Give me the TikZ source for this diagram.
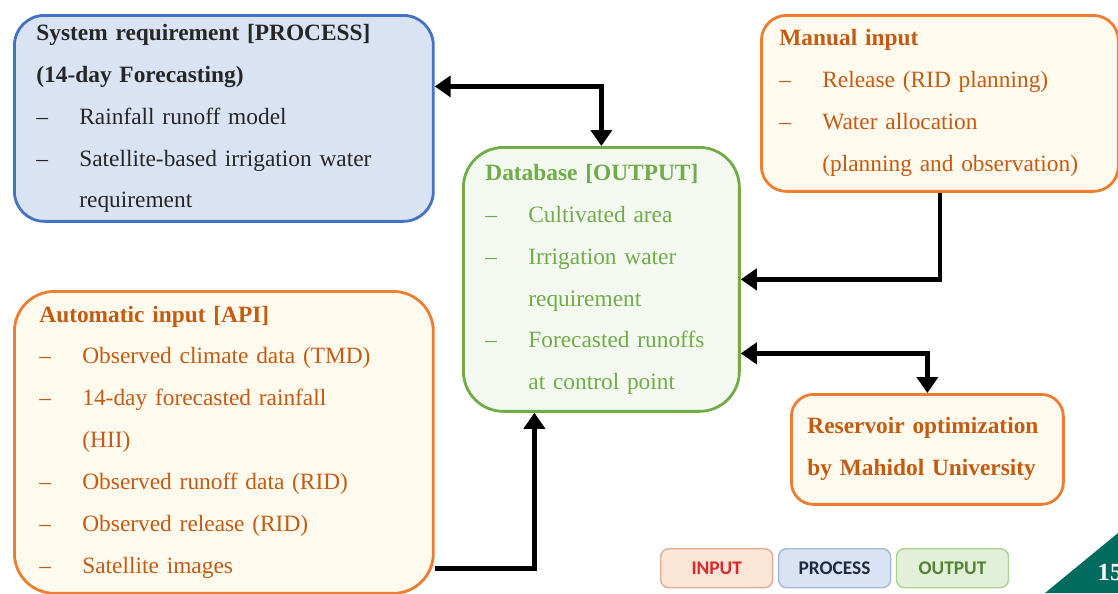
\documentclass[tikz,border=0pt]{standalone}
\usepackage{fontspec}
\setmainfont{Liberation Serif}
\newfontfamily\legendfont{Carlito}
\usetikzlibrary{positioning,arrows.meta}

\definecolor{procline}{HTML}{4472C4}
\definecolor{procfill}{HTML}{DAE3F3}
\definecolor{inline}{HTML}{ED7D31}
\definecolor{infill}{HTML}{FFFAEE}
\definecolor{intext}{HTML}{C55A11}
\definecolor{outline}{HTML}{70AD47}
\definecolor{outfill}{HTML}{F3F8F0}
\definecolor{outtext}{HTML}{70AD47}
\definecolor{legin}{HTML}{FBE5D6}
\definecolor{leginline}{HTML}{E3AC8E}
\definecolor{leginttext}{HTML}{D92B2B}
\definecolor{legprocline}{HTML}{A3B7DC}
\definecolor{legproctext}{HTML}{1F2A44}
\definecolor{legout}{HTML}{E2F0D9}
\definecolor{legoutline}{HTML}{A9D18E}
\definecolor{legouttext}{HTML}{548235}
\definecolor{pageteal}{HTML}{006B5E}

\newcommand{\itemline}[1]{\mbox{\makebox[0.86cm][l]{--}#1}}
\newcommand{\wrapline}[1]{\mbox{\hspace*{0.86cm}#1}}

\begin{document}
\begin{tikzpicture}[x=0.02cm, y=-0.02cm]
    \tikzstyle{box} = [rectangle, draw, line width=1.6pt, align=left, anchor=north west, inner ysep=2pt, font=\fontsize{13.3}{23.9}\selectfont]
    \tikzstyle{procbox} = [box, draw=procline, fill=procfill, text=black!85]
    \tikzstyle{inbox} = [box, draw=inline, fill=infill, text=intext]
    \tikzstyle{outbox} = [box, draw=outline, fill=outfill, text=outtext]
    \tikzstyle{legend} = [rectangle, draw, line width=0.8pt, rounded corners=0.16cm, minimum width=2.24cm, minimum height=0.78cm, font=\legendfont\bfseries\fontsize{11}{13}\selectfont]
    \tikzstyle{arr} = [line width=2.6pt, -{Triangle[width=0.42cm, length=0.32cm]}]
    \tikzstyle{biarr} = [line width=2.6pt, {Triangle[width=0.42cm, length=0.32cm]}-{Triangle[width=0.42cm, length=0.32cm]}]

    \useasboundingbox (0,0) rectangle (1118,593);

    \node[procbox, rounded corners=0.6cm, inner xsep=0.44cm, text width=7.5cm, minimum height=4.12cm] (sysreq) at (13,14)
        {\textbf{System requirement [PROCESS]}\\
         \textbf{(14-day Forecasting)}\\
         \itemline{Rainfall runoff model}\\
         \itemline{Satellite-based irrigation water}\\
         \wrapline{requirement}};
    \node[inbox, rounded corners=0.5cm, inner xsep=0.36cm, text width=6.42cm, minimum height=3.52cm] (manual) at (760,14)
        {\textbf{Manual input}\\
         \itemline{Release (RID planning)}\\
         \itemline{Water allocation}\\
         \wrapline{(planning and observation)}};
    \node[outbox, rounded corners=0.8cm, inner xsep=0.44cm, text width=4.64cm, minimum height=5.28cm] (database) at (462,146)
        {\textbf{Database [OUTPUT]}\\
         \itemline{Cultivated area}\\
         \itemline{Irrigation water}\\
         \wrapline{requirement}\\
         \itemline{Forecasted runoffs}\\
         \wrapline{at control point}};
    \node[inbox, rounded corners=0.8cm, inner xsep=0.5cm, text width=7.38cm, minimum height=6.04cm] (autoin) at (13,290)
        {\textbf{Automatic input [API]}\\
         \itemline{Observed climate data (TMD)}\\
         \itemline{14-day forecasted rainfall}\\
         \wrapline{(HII)}\\
         \itemline{Observed runoff data (RID)}\\
         \itemline{Observed release (RID)}\\
         \itemline{Satellite images}};
    \node[inbox, rounded corners=0.44cm, inner xsep=0.32cm, text width=4.8cm, minimum height=2.2cm] (reservoir) at (790,393)
        {\textbf{Reservoir optimization}\\
         \textbf{by Mahidol University}};

    % legend
    \node[legend, draw=leginline, fill=legin, text=leginttext, anchor=north west] (input) at (660,548) {INPUT};
    \node[legend, draw=legprocline, fill=procfill, text=legproctext, right=0.09cm of input] (process) {PROCESS};
    \node[legend, draw=legoutline, fill=legout, text=legouttext, right=0.09cm of process] (output) {OUTPUT};

    % page number
    \fill[pageteal] (1045,593) -- (1118,533) -- (1118,593) -- cycle;
    \node[text=white, font=\bfseries\fontsize{14}{16}\selectfont] (pagenum) at (1110,572) {15};

    \draw[biarr] ([yshift=0.64cm]sysreq.east) -| (database.north);
    \draw[arr] (manual.south) |- (database.east);
    \draw[biarr] ([yshift=-1.48cm]database.east) -| (reservoir.north);
    \draw[arr] ([yshift=-2.52cm]autoin.east) -| ([xshift=-1.34cm]database.south);

\end{tikzpicture}
\end{document}
